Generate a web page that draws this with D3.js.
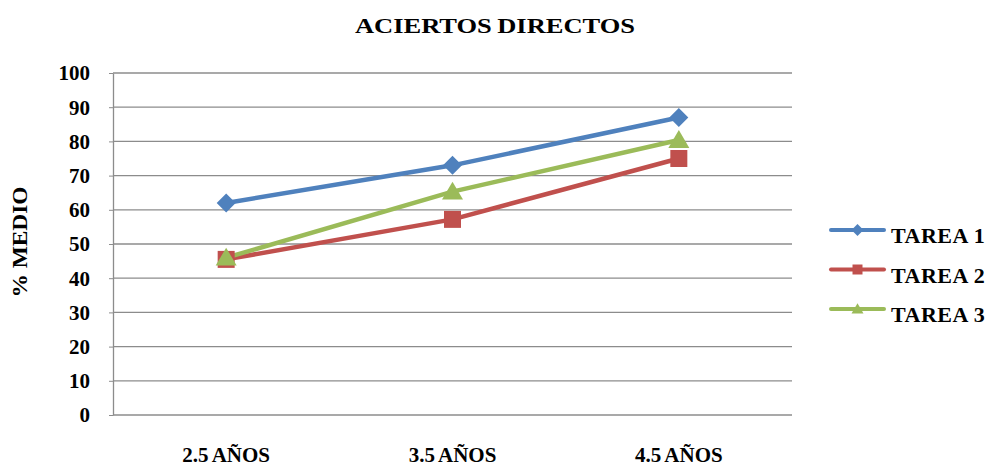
<!DOCTYPE html>
<html>
<head>
<meta charset="utf-8">
<script src="https://cdn.jsdelivr.net/npm/d3@7"></script>
</head>
<body style="margin:0;background:#fff">
<div id="chart"></div>
<script>
/* Data */
const categories = ["2.5 AÑOS", "3.5 AÑOS", "4.5 AÑOS"];
const seriesNames = ["TAREA 1", "TAREA 2", "TAREA 3"];
const tarea1 = [62, 73, 87];
const tarea2 = [45.5, 57.2, 75];
const tarea3 = [46, 65.3, 80.4];
const yTicks = [0, 10, 20, 30, 40, 50, 60, 70, 80, 90, 100];
const colors = ["#4F81BD", "#C0504D", "#9BBB59"];
const markers = ["diamond", "square", "triangle"];

const series = seriesNames.map((name, i) => ({
  name: name,
  values: [tarea1, tarea2, tarea3][i],
  color: colors[i],
  marker: markers[i]
}));

const FONT = "Liberation Serif";

// marker path centred on 0,0, s = full width
function markerPath(type, s) {
  const h = s / 2;
  if (type === "diamond") return `M0,${-h}L${h},0L0,${h}L${-h},0Z`;
  if (type === "square") return `M${-h},${-h}H${h}V${h}H${-h}Z`;
  return `M0,${-h * 0.95}L${h},${h * 0.75}L${-h},${h * 0.75}Z`;
}

// serif bold text helper
function serif(sel, size) {
  return sel
    .attr("font-family", FONT)
    .attr("font-weight", "bold")
    .style("font-family", FONT)
    .style("font-weight", "bold")
    .style("font-size", size + "px")
    .attr("fill", "#000");
}

/* Dimensions */
const width = 995, height = 463;
const margin = { top: 73, right: 203, bottom: 48, left: 113 };

const svg = d3.select("#chart")
  .append("svg")
  .attr("width", width)
  .attr("height", height)
  .attr("font-family", FONT);

/* Scales */
const xScale = d3.scaleBand()
  .domain(categories)
  .range([margin.left, width - margin.right]);

const yScale = d3.scaleLinear()
  .domain([0, 100])
  .range([height - margin.bottom, margin.top]);

// Gridlines
svg.append("g")
  .selectAll("line")
  .data(yTicks)
  .enter()
  .append("line")
  .attr("x1", margin.left)
  .attr("x2", width - margin.right)
  .attr("y1", d => yScale(d))
  .attr("y2", d => yScale(d))
  .attr("stroke", "#8c8c8c")
  .attr("stroke-width", 1.3);

// Y-axis
const yAxis = svg.append("g")
  .attr("transform", `translate(${margin.left},0)`)
  .call(d3.axisLeft(yScale).tickValues(yTicks).tickSize(4).tickSizeOuter(0).tickPadding(19));
yAxis.attr("font-family", FONT);
yAxis.select(".domain").attr("stroke", "#8c8c8c").attr("stroke-width", 1.3);
yAxis.selectAll(".tick line").attr("stroke", "#8c8c8c");
serif(yAxis.selectAll("text"), 21).attr("dy", "0.33em");

// X labels (cut by the bottom edge, as in the original)
serif(svg.append("g")
  .selectAll("text")
  .data(categories)
  .enter()
  .append("text")
  .attr("x", d => xScale(d) + xScale.bandwidth() / 2)
  .attr("y", 462)
  .attr("text-anchor", "middle"), 21)
  .style("word-spacing", "-1px")
  .text(d => d);

// Y-label
serif(svg.append("text")
  .attr("transform", `translate(27,242) rotate(-90)`)
  .attr("text-anchor", "middle"), 21)
  .attr("textLength", 111)
  .attr("lengthAdjust", "spacingAndGlyphs")
  .text("% MEDIO");

// Title
serif(svg.append("text")
  .attr("x", 495)
  .attr("y", 33)
  .attr("text-anchor", "middle"), 22)
  .style("word-spacing", "-1px")
  .attr("textLength", 280)
  .attr("lengthAdjust", "spacingAndGlyphs")
  .text("ACIERTOS DIRECTOS");

/* Lines */
const line = d3.line()
  .x((d, i) => xScale(categories[i]) + xScale.bandwidth() / 2)
  .y(d => yScale(d));

series.forEach(s => {
  svg.append("path")
    .datum(s.values)
    .attr("fill", "none")
    .attr("stroke", s.color)
    .attr("stroke-width", 4.5)
    .attr("stroke-linejoin", "round")
    .attr("d", line);
});

series.forEach(s => {
  svg.selectAll(null)
    .data(s.values)
    .enter()
    .append("path")
    .attr("d", markerPath(s.marker, s.marker === "square" ? 17 : (s.marker === "diamond" ? 19 : 21)))
    .attr("transform", (d, i) => `translate(${xScale(categories[i]) + xScale.bandwidth() / 2},${yScale(d)})`)
    .attr("fill", s.color);
});

/* Legend */
const legend = svg.append("g")
  .attr("transform", "translate(831,230)");

series.forEach((s, i) => {
  const g = legend.append("g").attr("transform", `translate(0,${i * 39.5})`);
  g.append("line")
    .attr("x1", 0).attr("x2", 53)
    .attr("stroke", s.color)
    .attr("stroke-width", 4)
    .attr("stroke-linecap", "round");
  g.append("path")
    .attr("d", markerPath(s.marker, s.marker === "square" ? 10 : 12))
    .attr("transform", "translate(26.5,0)")
    .attr("fill", s.color);
  serif(g.append("text")
    .attr("x", 60)
    .attr("y", 13), 22)
    .style("letter-spacing", "0.5px")
    .text(s.name);
});
</script>
</body>
</html>
